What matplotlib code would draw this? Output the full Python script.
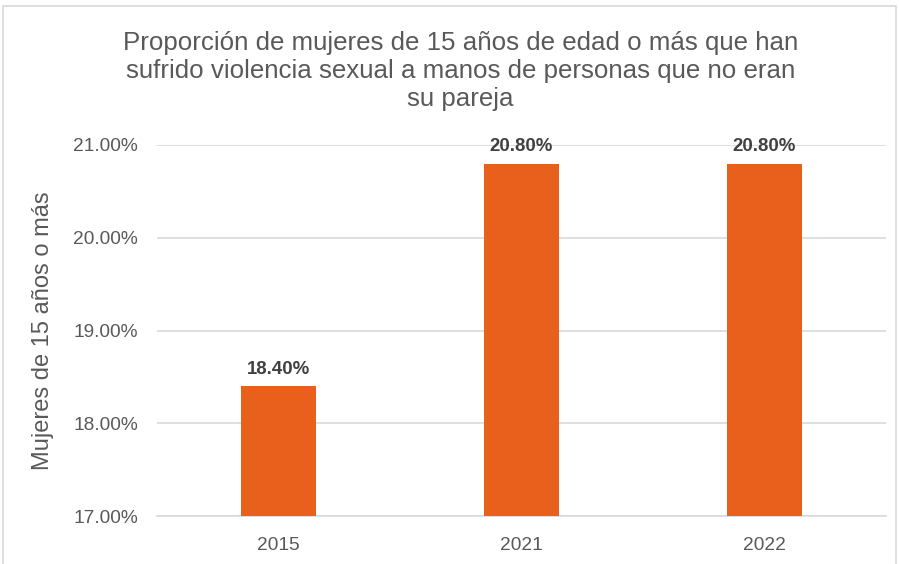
import matplotlib.pyplot as plt
from matplotlib.patches import Rectangle

# Datos
years = ['2015', '2021', '2022']
values = [18.40, 20.80, 20.80]
y_ticks = [17.0, 18.0, 19.0, 20.0, 21.0]

plt.rcParams['font.family'] = ['Liberation Sans', 'DejaVu Sans']
gray = '#595959'

fig = plt.figure(figsize=(8.99, 5.64), dpi=100)
ax = fig.add_axes([0.175, 0.085, 0.810, 0.658])

x = range(len(years))
ax.bar(x, values, width=0.31, color='#E8601C', zorder=3)

ax.set_ylim(17, 21)
ax.set_xlim(-0.5, 2.5)
ax.set_yticks(y_ticks)
ax.set_yticklabels([f'{v:.2f}%' for v in y_ticks], color=gray, fontsize=13.8)
ax.set_xticks(list(x))
ax.set_xticklabels(years, color=gray, fontsize=13.8)
ax.tick_params(length=0)
ax.tick_params(axis='x', pad=15)
ax.tick_params(axis='y', pad=14)

ax.grid(axis='y', color='#D9D9D9', linewidth=1.2, zorder=0)
for s in ['top', 'right', 'left']:
    ax.spines[s].set_visible(False)
ax.spines['bottom'].set_color('#D9D9D9')
ax.spines['bottom'].set_linewidth(1.2)

for xi, v in zip(x, values):
    ax.annotate(f'{v:.2f}%', (xi, v), xytext=(0, 6), textcoords='offset points',
                ha='center', va='bottom', fontsize=13.4, fontweight='bold', color='#404040')

ax.set_ylabel('Mujeres de 15 años o más', fontsize=17, color=gray, labelpad=14)

fig.text(0.512, 0.945,
         'Proporción de mujeres de 15 años de edad o más que han\n'
         'sufrido violencia sexual a manos de personas que no eran\n'
         'su pareja',
         ha='center', va='top', fontsize=18.6, color=gray, linespacing=1.2)

# borde
fig.patches.append(Rectangle((0.003, -0.01), 0.994, 1.0, transform=fig.transFigure,
                             fill=False, edgecolor='#D9D9D9', linewidth=1.2))

fig.savefig('out.png', dpi=100)
